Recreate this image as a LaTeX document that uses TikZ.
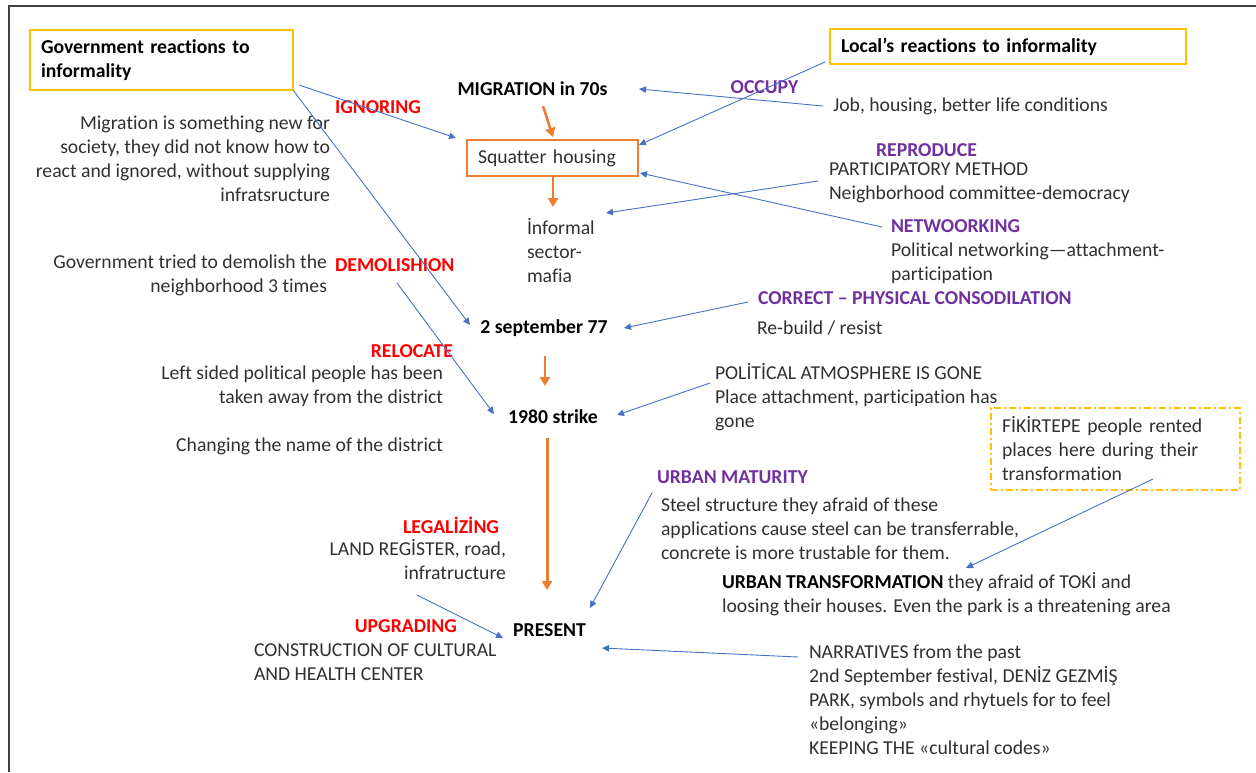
\documentclass[tikz,border=0pt]{standalone}
\usepackage{fontspec}
\setmainfont{Carlito}[Ligatures=NoCommon]
\usetikzlibrary{arrows.meta}
\definecolor{txt}{HTML}{303030}
\definecolor{redl}{HTML}{FF0000}
\definecolor{purp}{HTML}{7030A0}
\definecolor{bluel}{HTML}{4472C4}
\definecolor{orng}{HTML}{ED7D31}
\definecolor{yel}{HTML}{FFC000}
\definecolor{frame}{HTML}{404040}
\begin{document}
\begin{tikzpicture}[x=1pt,y=-1pt,
  every node/.style={inner sep=0pt, outer sep=0pt, font=\fontsize{19.7}{24}\selectfont, text=txt},
  lbl/.style={font=\fontsize{19.7}{24}\selectfont\bfseries, text=black},
  govlbl/.style={lbl, text=redl},
  loclbl/.style={lbl, text=purp},
  conn/.style={draw=bluel, line width=0.9pt, -{Triangle[width=6.5pt,length=7pt]}},
  flow/.style={draw=orng, line width=2.5pt, -{Triangle[width=10pt,length=9pt]}},
  ybox/.style={draw=yel, line width=2pt, anchor=north west, inner xsep=11pt, align=left, lbl}
]
\useasboundingbox (0,0) rectangle (1256,772);
\draw[frame, line width=1.5pt] (8,6) -- (1256,6);
\draw[frame, line width=1.5pt] (9,6) -- (9,772);

% boxes
\node[ybox, minimum width=263pt, minimum height=60pt, text width=241pt] (govbox) at (30,30) {Government reactions to\\informality};
\node[ybox, minimum width=356pt, minimum height=35pt, text width=334pt] (locbox) at (830,29) {Local’s reactions to informality};
\node[draw=orng, line width=1.5pt, anchor=north west, minimum width=171pt, minimum height=36pt, text width=149pt, inner xsep=11pt, align=left] (sq) at (467,140) {Squatter housing};
\node[draw=yel, line width=1.5pt, dash pattern=on 7pt off 3pt on 2pt off 3pt, anchor=north west, minimum width=249pt, minimum height=82pt, text width=227pt, inner xsep=11pt, align=left] (fik) at (991,408) {FİKİRTEPE people rented\\places here during their\\transformation};

% central column
\node[lbl, anchor=base] (mig) at (532.5,95) {MIGRATION in 70s};
\node[anchor=base west, align=left] (inf) at (527,282) {İnformal\\sector-\\mafia};
\node[lbl, anchor=base] (sep77) at (544,333) {2 september 77};
\node[lbl, anchor=base] (s80) at (553,423) {1980 strike};
\node[lbl, anchor=base] (present) at (549.5,636) {PRESENT};

% government side (multi-line nodes: base = last line)
\node[govlbl, anchor=base] (ign) at (378,113) {IGNORING};
\node[anchor=base east, align=right] (mignew) at (330,201) {Migration is something new for\\society, they did not know how to\\react and ignored, without supplying\\infratsructure};
\node[govlbl, anchor=base west] (dem) at (335,271) {DEMOLISHION};
\node[anchor=base east, align=right] (demtxt) at (327,292) {Government tried to demolish the\\neighborhood 3 times};
\node[govlbl, anchor=base east] (rel) at (453,357) {RELOCATE};
\node[anchor=base east, align=right] (reltxt) at (443,403) {Left sided political people has been\\taken away from the district};
\node[anchor=base east] (chg) at (443,451) {Changing the name of the district};
\node[govlbl, anchor=base east] (leg) at (499,533) {LEGALİZİNG};
\node[anchor=base east, align=right] (land) at (506,579) {LAND REGİSTER, road,\\infratructure};
\node[govlbl, anchor=base east] (upg) at (457,632) {UPGRADING};
\node[anchor=base west, align=left] (cons) at (254,680) {CONSTRUCTION OF CULTURAL\\AND HEALTH CENTER};

% local side
\node[loclbl, anchor=base] (occ) at (764.5,93) {OCCUPY};
\node[anchor=base west] (job) at (833,111) {Job, housing, better life conditions};
\node[loclbl, anchor=base] (rep) at (926.5,156) {REPRODUCE};
\node[anchor=base west, align=left] (part) at (829,199) {PARTICIPATORY METHOD\\Neighborhood committee-democracy};
\node[loclbl, anchor=base west] (net) at (891,232) {NETWOORKING};
\node[anchor=base west, align=left] (nettxt) at (891,280) {Political networking—attachment-\\participation};
\node[loclbl, anchor=base west] (cor) at (758,304) {CORRECT – PHYSICAL CONSODILATION};
\node[anchor=base west] (reb) at (757,334) {Re-build / resist};
\node[anchor=base west, align=left] (pol) at (715,427) {POLİTİCAL ATMOSPHERE IS GONE\\Place attachment, participation has\\gone};
\node[loclbl, anchor=base west] (um) at (657,483) {URBAN MATURITY};
\node[anchor=base west, align=left] (steel) at (661,559) {Steel structure they afraid of these\\applications cause steel can be transferrable,\\concrete is more trustable for them.};
\node[anchor=base west, align=left] (ut) at (722,612) {{\bfseries\color{black}URBAN TRANSFORMATION} they afraid of TOKİ and\\loosing their houses. Even the park is a threatening area};
\node[anchor=base west, align=left] (narr) at (809,754) {NARRATIVES from the past\\2nd September festival, DENİZ GEZMİŞ\\PARK, symbols and rhytuels for to feel\\«belonging»\\KEEPING THE «cultural codes»};

% connector end points
\coordinate (igS) at (299,85);   \coordinate (igE) at (456,138);
\coordinate (d1E) at (470,325);
\coordinate (d2S) at (397,283);  \coordinate (d2E) at (494,414);
\coordinate (jobS) at (823,106); \coordinate (jobE) at (639,89);
\coordinate (occS) at (825,62);  \coordinate (occE) at (639,145);
\coordinate (repS) at (818,181); \coordinate (repE) at (606,213);
\coordinate (netS) at (882,227); \coordinate (netE) at (640,173);
\coordinate (corS) at (748,302); \coordinate (corE) at (624,328);
\coordinate (polS) at (710,383); \coordinate (polE) at (617,415);
\coordinate (umS) at (652,493);  \coordinate (umE) at (590,608);
\coordinate (narS) at (798,657); \coordinate (narE) at (602,648);
\coordinate (legS) at (417,595); \coordinate (legE) at (503,638);
\coordinate (fikS) at (1153,479);\coordinate (fikE) at (966,568);
\coordinate (o1S) at (543,106);  \coordinate (o1E) at (553,137);
\coordinate (o2S) at (553,176);  \coordinate (o2E) at (553,207);
\coordinate (o3S) at (545,356);  \coordinate (o3E) at (545,386);
\coordinate (o4S) at (547,438);  \coordinate (o4E) at (547,590);

% blue connectors
\draw[conn] (igS) -- (igE);
\draw[conn] (govbox.south east) -- (d1E);
\draw[conn] (d2S) -- (d2E);
\draw[conn] (jobS) -- (jobE);
\draw[conn] (occS) -- (occE);
\draw[conn] (repS) -- (repE);
\draw[conn] (netS) -- (netE);
\draw[conn] (corS) -- (corE);
\draw[conn] (polS) -- (polE);
\draw[conn] (umS) -- (umE);
\draw[conn] (narS) -- (narE);
\draw[conn] (legS) -- (legE);
\draw[conn] (fikS) -- (fikE);

% orange flow
\draw[flow] (o1S) -- (o1E);
\draw[flow] (o2S) -- (o2E);
\draw[flow] (o3S) -- (o3E);
\draw[flow, line width=3pt] (o4S) -- (o4E);
\end{tikzpicture}
\end{document}
